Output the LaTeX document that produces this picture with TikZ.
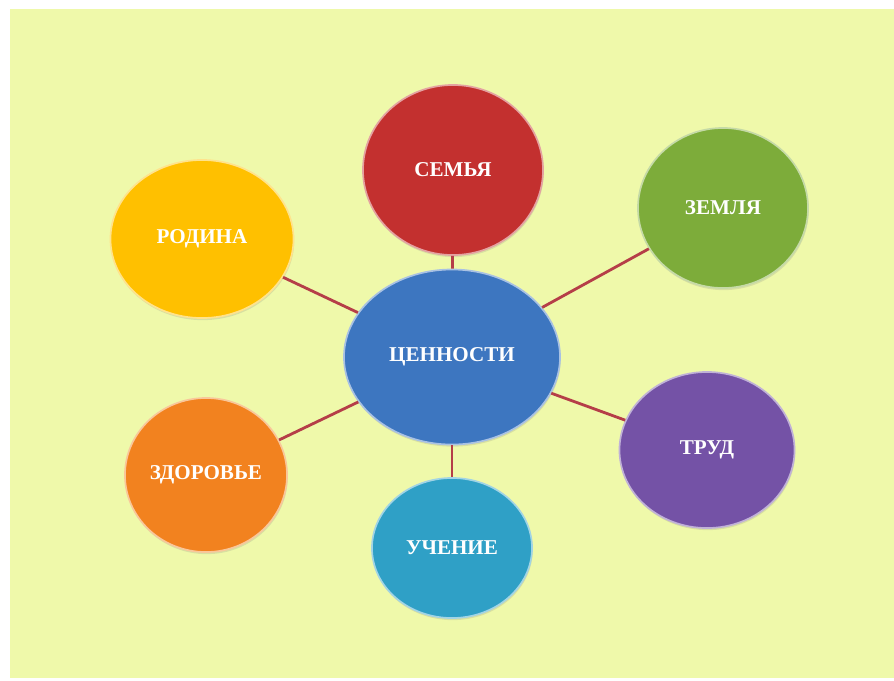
\documentclass[tikz,border=0pt]{standalone}
\usepackage{fontspec}
\setmainfont{Liberation Serif}
\usetikzlibrary{shapes.geometric,shadows}

\definecolor{bgyellow}{HTML}{EFF9AA}
\definecolor{linkred}{HTML}{B53E48}
\definecolor{semred}{HTML}{C3302F}
\definecolor{zemgreen}{HTML}{7DAC3A}
\definecolor{rodgold}{HTML}{FFC000}
\definecolor{cenblue}{HTML}{3D76C0}
\definecolor{trudviolet}{HTML}{7452A6}
\definecolor{zdororange}{HTML}{F2821F}
\definecolor{uchcyan}{HTML}{2FA0C6}

\begin{document}
\begin{tikzpicture}[x=0.025cm, y=-0.025cm,
    bubble/.style={ellipse, fill=#1, draw=white!55!#1, line width=1.2pt,
        inner sep=0pt, text=white, font=\bfseries\fontsize{15}{18}\selectfont,
        drop shadow={opacity=0.2, shadow xshift=0.5pt, shadow yshift=-1.5pt}},
    link/.style={draw=linkred, line width=2pt}]

    % Page and background
    \fill[white] (0,0) rectangle (894,680);
    \fill[bgyellow] (10,9) rectangle (894,678);

    % Central value
    \node[bubble=cenblue, minimum width=5.4cm, minimum height=4.375cm] (cen) at (452,357) {ЦЕННОСТИ};

    % Surrounding values
    \node[bubble=semred, minimum width=4.5cm, minimum height=4.25cm] (sem) at (453,170) {СЕМЬЯ};
    \node[bubble=zemgreen, minimum width=4.25cm, minimum height=4cm] (zem) at (723,208) {ЗЕМЛЯ};
    \node[bubble=rodgold, minimum width=4.575cm, minimum height=3.95cm] (rod) at (202,239) {РОДИНА};
    \node[bubble=trudviolet, minimum width=4.375cm, minimum height=3.9cm] (trud) at (707,450) {ТРУД};
    \node[bubble=zdororange, minimum width=4.05cm, minimum height=3.85cm] (zdor) at (206,475) {ЗДОРОВЬЕ};
    \node[bubble=uchcyan, minimum width=4cm, minimum height=3.5cm] (uch) at (452,548) {УЧЕНИЕ};

    % Links from the centre
    \foreach \n in {sem, zem, rod, trud, zdor, uch} {
        \draw[link] (cen) -- (\n);
    }
\end{tikzpicture}
\end{document}
